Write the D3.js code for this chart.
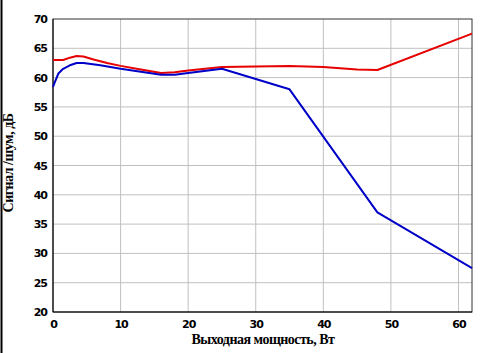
<!DOCTYPE html>
<html>
<head>
<meta charset="utf-8">
<script src="https://cdn.jsdelivr.net/npm/d3@7"></script>
<style>
  body { margin: 0; background: #fff; }
  .tick text { font-family: "DejaVu Sans", Verdana, sans-serif; font-weight: bold; font-size: 11px; letter-spacing: -1px; fill: #000; }
  .title { font-family: "Liberation Serif", "Times New Roman", serif; font-weight: bold; font-size: 14px; letter-spacing: -0.5px; }
</style>
</head>
<body>
<svg id="chart" width="481" height="353"></svg>
<script>
// output power, W
var red_x = [0, 1.5, 2.5, 3.5, 4.5, 6, 8, 10, 13, 16, 18, 20, 25, 30, 35, 40, 45, 48, 62];
var red_y = [63.0, 63.0, 63.4, 63.7, 63.6, 63.1, 62.5, 62.0, 61.4, 60.8, 60.9, 61.2, 61.8, 61.9, 62.0, 61.8, 61.4, 61.3, 67.5];

var blue_x = [0, 0.3, 0.8, 1.5, 2.5, 3.5, 4.5, 7, 10, 13, 16, 18, 20, 25, 35, 48, 62];
var blue_y = [58.4, 59.3, 60.7, 61.5, 62.1, 62.5, 62.5, 62.1, 61.5, 61.0, 60.5, 60.5, 60.8, 61.5, 58.0, 37.0, 27.5];

var x_ticks = [0, 10, 20, 30, 40, 50, 60];
var y_ticks = [20, 25, 30, 35, 40, 45, 50, 55, 60, 65, 70];

var margin = {top: 19, right: 9, bottom: 41, left: 53};
var width = 481 - margin.left - margin.right;
var height = 353 - margin.top - margin.bottom;

var svg = d3.select('#chart');

// frame line at the left edge of the picture
svg.append('line')
   .attr('x1', 1.5).attr('x2', 1.5)
   .attr('y1', 0).attr('y2', 353)
   .attr('stroke', '#000').attr('stroke-width', 2);

var g = svg.append('g')
   .attr('transform', 'translate(' + margin.left + ',' + margin.top + ')');

var x = d3.scaleLinear().domain([0, 62]).range([0, width]);
var y = d3.scaleLinear().domain([20, 70]).range([height, 0]);

// gridlines
g.selectAll('.vgrid')
 .data(x_ticks.slice(1))
 .enter().append('line')
 .attr('x1', d => x(d)).attr('x2', d => x(d))
 .attr('y1', 0).attr('y2', height)
 .attr('stroke', 'rgb(192,192,192)');

g.selectAll('.hgrid')
 .data(y_ticks.slice(1, -1))
 .enter().append('line')
 .attr('x1', 0).attr('x2', width)
 .attr('y1', d => y(d)).attr('y2', d => y(d))
 .attr('stroke', 'rgb(192,192,192)');

g.append('g')
 .attr('transform', 'translate(0,' + height + ')')
 .call(d3.axisBottom(x).tickValues(x_ticks).tickSize(0).tickPadding(8))
 .call(a => a.select('.domain').remove());

g.append('g')
 .call(d3.axisLeft(y).tickValues(y_ticks).tickSize(0).tickPadding(6))
 .call(a => a.select('.domain').remove());

// plot frame
g.append('rect')
 .attr('x', 0).attr('y', 0)
 .attr('width', width).attr('height', height)
 .attr('fill', 'none')
 .attr('stroke', '#333');

g.append('path')
 .attr('d', 'M0,0V' + height + 'H' + width)
 .attr('fill', 'none')
 .attr('stroke', '#000');

var line = d3.line().x(d => x(d[0])).y(d => y(d[1]));

g.append('path')
 .datum(red_x.map((v, i) => [v, red_y[i]]))
 .attr('fill', 'none')
 .attr('stroke', 'rgb(230,0,0)')
 .attr('stroke-width', 2)
 .attr('stroke-linejoin', 'round')
 .attr('d', line);

g.append('path')
 .datum(blue_x.map((v, i) => [v, blue_y[i]]))
 .attr('fill', 'none')
 .attr('stroke', 'rgb(0,0,200)')
 .attr('stroke-width', 2)
 .attr('stroke-linejoin', 'round')
 .attr('d', line);

svg.append('text')
   .attr('class', 'title')
   .attr('x', 263).attr('y', 344)
   .attr('text-anchor', 'middle')
   .text('Выходная мощность, Вт');

svg.append('text')
   .attr('class', 'title')
   .attr('transform', 'translate(13,163) rotate(-90)')
   .attr('text-anchor', 'middle')
   .text('Сигнал /шум, дБ');
</script>
</body>
</html>
